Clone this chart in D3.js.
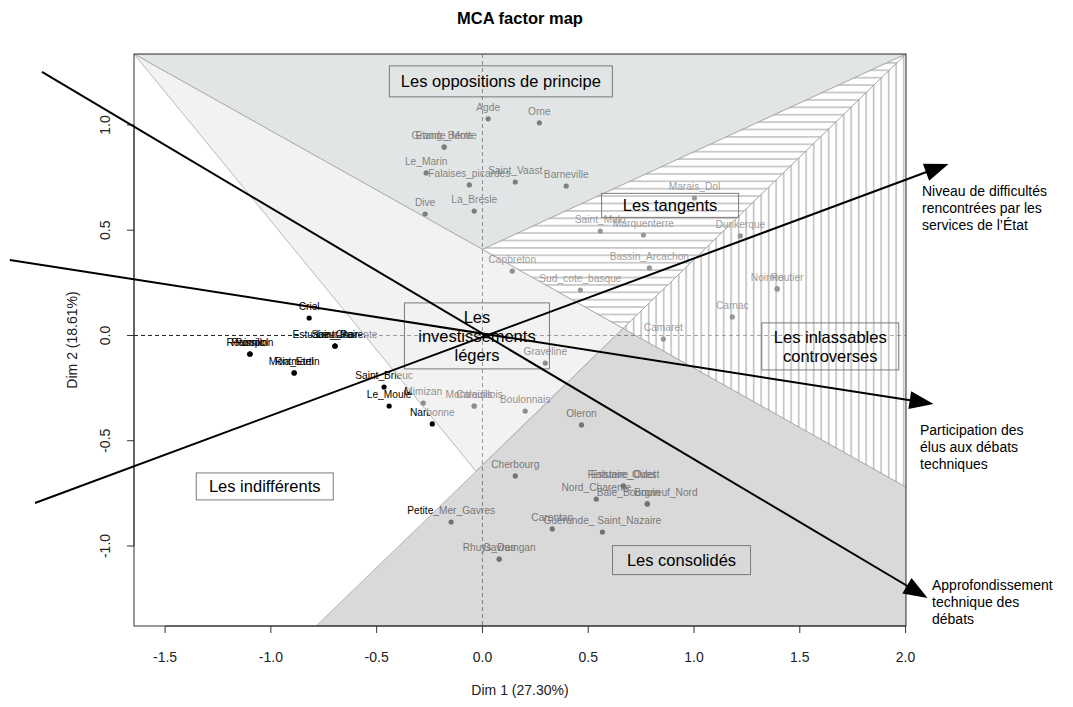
<!DOCTYPE html>
<html><head><meta charset="utf-8">
<script src="https://cdn.jsdelivr.net/npm/d3@7"></script>
<style>body{margin:0;background:#fff;} text{font-family:Arial,"Liberation Sans",sans-serif;}</style>
</head><body><svg id="c" width="1073" height="707"></svg>
<script>
// ---- individuals (Dim 1 / Dim 2 coordinates) ----
const names = ["Agde","Orne","Grande_Motte","Etang_Berre","Le_Marin","Falaises_picardes","Dive","La_Bresle",
  "Saint_Vaast","Barneville","Marais_Dol","Saint_Malo","Marquenterre","Dunkerque","Bassin_Arcachon","Capbreton",
  "Sud_cote_basque","Noirmoutier","Re","Carnac","Camaret","Graveline","Oleron","Boulonnais","Mimizan",
  "Montreuillois","Calaisis","Cherbourg","Finistere_Ouest","Estuaire_Odet","Nord_Charente","Baie_Bourgneuf_Nord","Bouin",
  "Carentan","Guérande_ Saint_Nazaire","Petite_Mer_Gavres","Rhuys_Damgan","Gavres","Criel",
  "Estuaire_Charente","Saint_Pair","Leucate","Roussillon","Pornic","Paimpol","Montmartin","Ria_Etel",
  "Saint_Brieuc","Le_Moule","Narbonne"];
const dim1 = [0.027,0.269,-0.181,-0.181,-0.266,-0.062,-0.271,-0.039,
  0.155,0.396,1.002,0.557,0.761,1.219,0.789,0.141,
  0.463,1.393,1.393,1.181,0.855,0.297,0.468,0.202,-0.280,
  -0.039,-0.039,0.155,0.666,0.666,0.538,0.779,0.779,
  0.330,0.567,-0.148,0.079,0.079,-0.819,
  -0.697,-0.697,-0.697,-1.099,-1.099,-1.099,-0.890,-0.890,
  -0.465,-0.441,-0.237];
const dim2 = [1.029,1.010,0.895,0.895,0.772,0.715,0.577,0.591,
  0.729,0.710,0.653,0.496,0.477,0.473,0.321,0.306,
  0.216,0.221,0.221,0.088,-0.017,-0.131,-0.425,-0.359,-0.321,
  -0.335,-0.335,-0.667,-0.715,-0.715,-0.777,-0.800,-0.800,
  -0.919,-0.934,-0.886,-1.062,-1.062,0.083,
  -0.050,-0.050,-0.050,-0.088,-0.088,-0.088,-0.178,-0.178,
  -0.245,-0.335,-0.420];

// ---- supplementary variable arrows ----
const arrowLabels = [["Niveau de difficultés","rencontrées par les","services de l’État"],
                     ["Participation des","élus aux débats","techniques"],
                     ["Approfondissement","technique des","débats"]];
const arrowTailX = [-2.115,-2.234,-2.082];
const arrowTailY = [-0.796, 0.359, 1.252];
const arrowHeadX = [2.203, 2.132, 2.104];
const arrowHeadY = [0.815,-0.325,-1.247];

// ---- typology regions ----
const regionLines = [["Les oppositions de principe"],["Les tangents"],["Les","investissements","légers"],
                     ["Les inlassables","controverses"],["Les indifférents"],["Les consolidés"]];
const regionX = [0.087, 0.887, -0.026, 1.644, -1.029, 0.941];
const regionY = [1.207, 0.618, -0.002, -0.052, -0.717, -1.067];
// partition vertices (Dim1, Dim2)
const vTL=[-1.647,1.337], vTR=[2.002,1.337], vP0=[0,0.409], vR1=[2.002,-0.72],
      vB2=[-0.786,-1.38], vBR=[2.002,-1.38], vP2=[-0.03,-0.645];

const xTicks=[-1.5,-1.0,-0.5,0.0,0.5,1.0,1.5,2.0];
const xTickLabels=["-1.5","-1.0","-0.5","0.0","0.5","1.0","1.5","2.0"];
const yTicks=[-1.0,-0.5,0.0,0.5,1.0];
const yTickLabels=["-1.0","-0.5","0.0","0.5","1.0"];

// ---------------------------------------------------------------
const P={l:134,r:906,t:54,b:626};
const x=d3.scaleLinear().domain([-1.647,2.002]).range([P.l,P.r]);
const y=d3.scaleLinear().domain([-1.38,1.337]).range([P.b,P.t]);
const svg=d3.select("#c");
const defs=svg.append("defs");
defs.append("clipPath").attr("id","clip").append("rect")
  .attr("x",P.l).attr("y",P.t).attr("width",P.r-P.l).attr("height",P.b-P.t);
const ph=defs.append("pattern").attr("id","hh").attr("patternUnits","userSpaceOnUse").attr("width",20).attr("height",7.4);
ph.append("line").attr("x1",0).attr("x2",20).attr("y1",3.7).attr("y2",3.7).attr("stroke","#8c8c8c").attr("stroke-width",0.9);
const pv=defs.append("pattern").attr("id","vh").attr("patternUnits","userSpaceOnUse").attr("width",7.5).attr("height",20);
pv.append("line").attr("y1",0).attr("y2",20).attr("x1",3.7).attr("x2",3.7).attr("stroke","#8c8c8c").attr("stroke-width",0.9);

function inter(a,b,c,d){
  const x1=a[0],y1=a[1],x2=b[0],y2=b[1],x3=c[0],y3=c[1],x4=d[0],y4=d[1];
  const den=(x1-x2)*(y3-y4)-(y1-y2)*(x3-x4);
  const t=((x1-x3)*(y3-y4)-(y1-y3)*(x3-x4))/den;
  return [x1+t*(x2-x1), y1+t*(y2-y1)];
}
const vP1=inter(vTL,vR1,vB2,vTR);
const regions=[
  {pts:[vTL,vTR,vP0], fill:"#cfd4d4", op:0.6},
  {pts:[vTL,vP0,vP1,vP2], fill:"#e9e9e9", op:0.6},
  {pts:[vB2,vP2,vP1,vR1,vBR], fill:"#c0c0c0", op:0.6},
  {pts:[vP0,vTR,vP1], fill:"#ffffff", op:0.6, hatch:"url(#hh)"},
  {pts:[vTR,vR1,vP1], fill:"#ffffff", op:0.6, hatch:"url(#vh)"}
];
const poly=p=>p.map(v=>x(v[0])+","+y(v[1])).join(" ");

// points & labels (under the translucent regions)
const gp=svg.append("g");
names.forEach((n,i)=>{
  gp.append("circle").attr("cx",x(dim1[i])).attr("cy",y(dim2[i])).attr("r",2.6).attr("fill","#000");
  gp.append("text").attr("x",x(dim1[i])).attr("y",y(dim2[i])-8).attr("text-anchor","middle")
    .attr("font-size",10.2).attr("fill","#000").text(n);
});
// dashed origin lines
const gd=svg.append("g").attr("clip-path","url(#clip)");
gd.append("line").attr("x1",x(0)).attr("x2",x(0)).attr("y1",P.t).attr("y2",P.b)
  .attr("stroke","#222").attr("stroke-dasharray","4,3").attr("stroke-width",1);
gd.append("line").attr("x1",P.l).attr("x2",P.r).attr("y1",y(0)).attr("y2",y(0))
  .attr("stroke","#222").attr("stroke-dasharray","4,3").attr("stroke-width",1);

// regions
const gr=svg.append("g").attr("clip-path","url(#clip)");
regions.forEach(r=>{
  gr.append("polygon").attr("points",poly(r.pts)).attr("fill",r.fill).attr("fill-opacity",r.op)
    .attr("stroke","#a8a8a8").attr("stroke-width",0.8);
  if(r.hatch) gr.append("polygon").attr("points",poly(r.pts)).attr("fill",r.hatch).attr("stroke","none");
});

// region label boxes
const boxW=[223,137,145,137,137,138], boxH=[31,24,66,47,27,29];
const gb=svg.append("g");
regionLines.forEach((lines,i)=>{
  const cx=x(regionX[i]), cy=y(regionY[i]);
  gb.append("rect").attr("x",cx-boxW[i]/2).attr("y",cy-boxH[i]/2).attr("width",boxW[i]).attr("height",boxH[i])
    .attr("fill","none").attr("stroke","#7a7a7a").attr("stroke-width",1);
  const lh=19, n=lines.length;
  lines.forEach((t,j)=>{
    gb.append("text").attr("x",cx).attr("y",cy+(j-(n-1)/2)*lh+6).attr("text-anchor","middle")
      .attr("font-size",16.5).attr("fill","#000").text(t);
  });
});

// box and axes
svg.append("rect").attr("x",P.l).attr("y",P.t).attr("width",P.r-P.l).attr("height",P.b-P.t)
  .attr("fill","none").attr("stroke","#333").attr("stroke-width",1);
const ga=svg.append("g");
ga.append("line").attr("x1",x(xTicks[0])).attr("x2",x(xTicks[xTicks.length-1])).attr("y1",P.b).attr("y2",P.b).attr("stroke","#333");
xTicks.forEach((t,i)=>{
  ga.append("line").attr("x1",x(t)).attr("x2",x(t)).attr("y1",P.b).attr("y2",P.b+7).attr("stroke","#333");
  ga.append("text").attr("x",x(t)).attr("y",P.b+36).attr("text-anchor","middle").attr("font-size",14).attr("fill","#222").text(xTickLabels[i]);
});
ga.append("line").attr("y1",y(yTicks[0])).attr("y2",y(yTicks[yTicks.length-1])).attr("x1",P.l).attr("x2",P.l).attr("stroke","#333");
yTicks.forEach((t,i)=>{
  ga.append("line").attr("y1",y(t)).attr("y2",y(t)).attr("x1",P.l).attr("x2",P.l-7).attr("stroke","#333");
  ga.append("text").attr("transform",`translate(${P.l-24},${y(t)}) rotate(-90)`).attr("text-anchor","middle")
    .attr("font-size",14).attr("fill","#222").text(yTickLabels[i]);
});
svg.append("text").attr("x",(P.l+P.r)/2).attr("y",695).attr("text-anchor","middle").attr("font-size",14).attr("fill","#222").text("Dim 1 (27.30%)");
svg.append("text").attr("transform",`translate(77,${(P.t+P.b)/2}) rotate(-90)`).attr("text-anchor","middle").attr("font-size",14).attr("fill","#222").text("Dim 2 (18.61%)");
svg.append("text").attr("x",(P.l+P.r)/2).attr("y",24).attr("text-anchor","middle").attr("font-size",16.5).attr("font-weight","bold").text("MCA factor map");

// arrows
const gw=svg.append("g");
const labPos=[[922,196],[920,435],[932,590]];
arrowLabels.forEach((lines,i)=>{
  const tx=x(arrowTailX[i]), ty=y(arrowTailY[i]), hx=x(arrowHeadX[i]), hy=y(arrowHeadY[i]);
  const len=Math.hypot(hx-tx,hy-ty), ux=(hx-tx)/len, uy=(hy-ty)/len, nx=-uy, ny=ux;
  const L=24, w=9, bx=hx-ux*L, by=hy-uy*L;
  gw.append("line").attr("x1",tx).attr("y1",ty).attr("x2",bx+ux*2).attr("y2",by+uy*2).attr("stroke","#000").attr("stroke-width",2);
  gw.append("polygon").attr("points",`${hx},${hy} ${bx+nx*w},${by+ny*w} ${bx-nx*w},${by-ny*w}`).attr("fill","#000");
  lines.forEach((t,j)=>{
    gw.append("text").attr("x",labPos[i][0]).attr("y",labPos[i][1]+j*17).attr("font-size",14).attr("fill","#000").text(t);
  });
});
</script></body></html>
